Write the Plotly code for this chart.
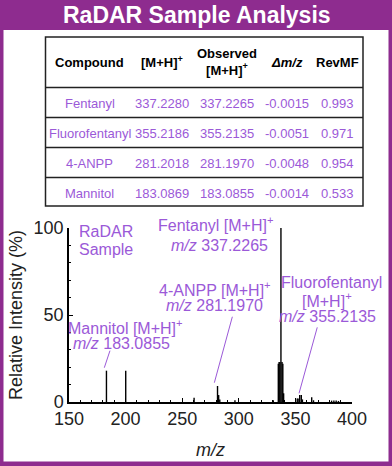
import plotly.graph_objects as go

# ---------------- data ----------------
title_text = "RaDAR Sample Analysis"

table_header = ["Compound", "[M+H]<sup>+</sup>", "Observed<br>[M+H]<sup>+</sup>", "<i>Δm/z</i>", "RevMF"]
compounds = ["Fentanyl", "Fluorofentanyl", "4-ANPP", "Mannitol"]
theoretical_mh = ["337.2280", "355.2186", "281.2018", "183.0869"]
observed_mh = ["337.2265", "355.2135", "281.1970", "183.0855"]
delta_mz = ["-0.0015", "-0.0051", "-0.0048", "-0.0014"]
rev_mf = ["0.993", "0.971", "0.954", "0.533"]

peak_mz = [183.0855, 200.11, 260.5, 281.1970, 282.2, 283.2, 296.6, 330.5,
           334.9, 335.6, 336.3, 337.2265, 338.2, 338.9, 339.6,
           351.6, 352.4, 353.8, 355.2135, 356.2, 364.4, 366.0,
           382.0, 384.0, 386.0, 388.0]
peak_int = [18.0, 18.0, 2.5, 9.2, 4.0, 1.5, 1.0, 1.0,
            22.0, 23.0, 23.0, 100.0, 23.0, 22.0, 5.0,
            2.0, 2.0, 4.0, 4.0, 1.5, 2.7, 1.0,
            0.8, 0.8, 0.8, 0.6]

x_ticks = [150, 200, 250, 300, 350, 400]
y_ticks = [0, 50, 100]

# ---------------- style ----------------
W, H = 392, 466
FONT = "Liberation Sans, Arial, sans-serif"
BORDER = "#8e2c8f"
PURPLE = "#9b59d8"

def px(x):
    return x / W

def py(y):
    return 1 - y / H

fig = go.Figure()

xs, ys = [], []
for m, i in zip(peak_mz, peak_int):
    xs += [m, m, None]
    ys += [0, i, None]
fig.add_trace(go.Scatter(x=xs, y=ys, mode="lines",
                         line=dict(color="black", width=1.4),
                         hoverinfo="skip", showlegend=False))

shapes = []
ann = []

# frame + title band
shapes.append(dict(type="rect", xref="paper", yref="paper", x0=0, x1=1, y0=py(30), y1=1,
                   fillcolor=BORDER, line=dict(width=0)))
shapes.append(dict(type="rect", xref="paper", yref="paper", x0=0, x1=px(3.5), y0=0, y1=1,
                   fillcolor=BORDER, line=dict(width=0)))
shapes.append(dict(type="rect", xref="paper", yref="paper", x0=px(388.5), x1=1, y0=0, y1=1,
                   fillcolor=BORDER, line=dict(width=0)))
shapes.append(dict(type="rect", xref="paper", yref="paper", x0=0, x1=1, y0=0, y1=py(461.5),
                   fillcolor=BORDER, line=dict(width=0)))
ann.append(dict(text="<b>" + title_text + "</b>", xref="paper", yref="paper",
                x=px(197), y=py(15), xanchor="center", yanchor="middle", showarrow=False,
                font=dict(family=FONT, size=23, color="white")))

# table
tbl_left, tbl_right, tbl_top, tbl_bottom = 45.5, 363, 37, 206
shapes.append(dict(type="rect", xref="paper", yref="paper", x0=px(tbl_left), x1=px(tbl_right),
                   y0=py(tbl_bottom), y1=py(tbl_top), line=dict(color="#222", width=1.5)))
row_lines = [87.5, 117.5, 147.5, 177.5]
for yl in row_lines:
    shapes.append(dict(type="line", xref="paper", yref="paper", x0=px(tbl_left), x1=px(tbl_right),
                       y0=py(yl), y1=py(yl), line=dict(color="#222", width=1.5)))
col_x = [89.5, 162, 227, 287, 337]
for cx, h in zip(col_x, table_header):
    ann.append(dict(text="<b>" + h + "</b>", xref="paper", yref="paper", x=px(cx), y=py(62.5),
                    xanchor="center", yanchor="middle", showarrow=False,
                    font=dict(family=FONT, size=13, color="black")))
row_y = [103, 133.5, 163.5, 193]
columns = [compounds, theoretical_mh, observed_mh, delta_mz, rev_mf]
for cx, col in zip(col_x, columns):
    for ry, v in zip(row_y, col):
        ann.append(dict(text=v, xref="paper", yref="paper", x=px(cx), y=py(ry),
                        xanchor="center", yanchor="middle", showarrow=False,
                        font=dict(family=FONT, size=13, color=PURPLE)))

# chart labels
lab_font = dict(family=FONT, size=16, color=PURPLE)
def dlab(text, x, y, xanchor="center", yshift=0):
    ann.append(dict(text=text, xref="x", yref="y", x=x, y=y, xanchor=xanchor, yanchor="middle",
                    showarrow=False, yshift=yshift, font=lab_font))

dlab("RaDAR", 157.1, 98.0, "left", yshift=0)
dlab("Sample", 157.1, 87.4, "left")
dlab("Fentanyl [M+H]<sup>+</sup>", 332.4, 100, "right", yshift=4)
dlab("<i>m/z</i> " + observed_mh[0], 327.6, 89.7, "right")
dlab("4-ANPP [M+H]<sup>+</sup>", 279.4, 64.9)
dlab("<i>m/z</i> " + observed_mh[2], 278.1, 55.2)
dlab("Fluorofentanyl", 382.3, 68.4)
dlab("[M+H]<sup>+</sup>", 377.9, 58.6)
dlab("<i>m/z</i> " + observed_mh[1], 378.4, 48.9)
dlab("Mannitol [M+H]<sup>+</sup>", 199.9, 43.1)
dlab("<i>m/z</i> " + observed_mh[3], 196.4, 33.9)

# leader lines: from near the peak up toward the label
leaders = [  # (peak index, dx_low, dy_low, x_up, y_up)
    (0, -1.9, 1.7, 186.2, 29.5),
    (3, -2.8, 1.9, 294.3, 49.0),
    (18, -2.0, 1.0, 369.3, 42.9),
]
for idx, dxl, dyl, xu, yu in leaders:
    shapes.append(dict(type="line", xref="x", yref="y",
                       x0=peak_mz[idx] + dxl, y0=peak_int[idx] + dyl, x1=xu, y1=yu,
                       line=dict(color=PURPLE, width=1)))

# axis titles
ann.append(dict(text="Relative Intensity (%)", xref="paper", yref="paper", x=px(16), y=py(315),
                xanchor="center", yanchor="middle", textangle=-90, showarrow=False,
                font=dict(family=FONT, size=18, color="#222")))
ann.append(dict(text="<i>m/z</i>", xref="paper", yref="paper", x=px(210.5), y=py(450),
                xanchor="center", yanchor="middle", showarrow=False,
                font=dict(family=FONT, size=18, color="#222")))

axis_common = dict(showline=True, linecolor="black", linewidth=1.5, ticks="inside",
                   ticklen=4, tickwidth=1.2, tickcolor="black", showgrid=False, zeroline=False,
                   automargin=False,
                   tickfont=dict(family=FONT, size=18, color="#222"),
                   minor=dict(ticks="inside", ticklen=2, tickwidth=1, tickcolor="black", dtick=10, showgrid=False))

fig.update_layout(
    width=W, height=H, margin=dict(l=0, r=0, t=0, b=0, pad=0, autoexpand=False),
    paper_bgcolor="white", plot_bgcolor="white",
    xaxis=dict(range=[150, 400], domain=[px(69), px(352)], tickvals=x_ticks, **axis_common),
    yaxis=dict(range=[0, 100], domain=[py(402), py(228)], tickvals=y_ticks, **axis_common),
    shapes=shapes, annotations=ann, showlegend=False,
)

fig.write_html("out.html", config={"displayModeBar": False},
               post_script="document.body.style.margin='0';document.body.style.overflow='hidden';")
